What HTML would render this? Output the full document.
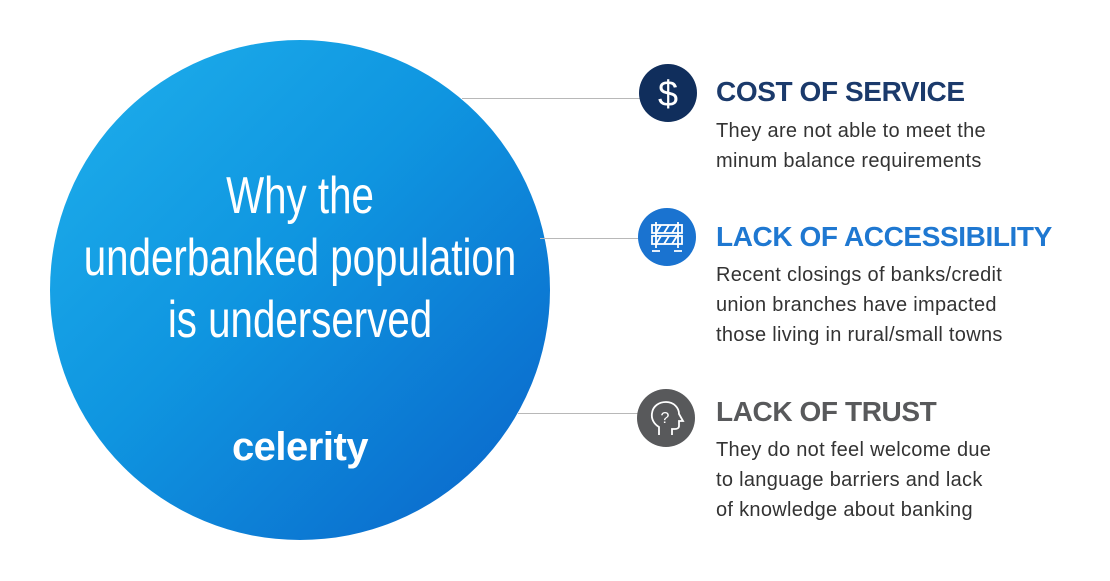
<!DOCTYPE html>
<html><head><style>
body{margin:0;width:1110px;height:581px;background:#fff;position:relative;overflow:hidden;font-family:"Liberation Sans",sans-serif}
.circ{position:absolute;left:50px;top:40px;width:500px;height:500px;border-radius:50%;background:linear-gradient(135deg,#1fb0ec 0%,#0f95e0 45%,#0a63c9 100%)}
.ct{position:absolute;left:0px;width:600px;text-align:center;color:#fff;font-size:52px;line-height:62px;top:165px;white-space:nowrap;transform:scaleX(0.775);transform-origin:300px 0}
.logo{position:absolute;left:50px;width:500px;text-align:center;color:#fff;font-size:40px;font-weight:bold;top:425px;letter-spacing:-0.5px}
.line{position:absolute;height:1px;background:#b8b8b8}
.ic{position:absolute;width:58px;height:58px;border-radius:50%}
.h{position:absolute;left:716px;font-size:28px;font-weight:bold;letter-spacing:-0.4px}
.p{position:absolute;left:716px;font-size:20px;line-height:30px;color:#333;letter-spacing:0.3px;white-space:nowrap}
</style></head><body>
<div class="circ"></div>
<div class="ct">Why the<br>underbanked population<br>is underserved</div>
<div class="logo">celerity</div>
<div class="line" style="left:462px;top:98px;width:180px"></div>
<div class="line" style="left:540px;top:238px;width:100px"></div>
<div class="line" style="left:518px;top:413px;width:120px"></div>
<div class="ic" style="left:639px;top:64px;background:#102e5c"><svg width="58" height="58"><text x="29" y="42" text-anchor="middle" fill="#fff" font-size="36" font-family="Liberation Sans">$</text></svg></div>
<div class="ic" style="left:638px;top:208px;background:#1a73d0"><svg width="58" height="58" fill="none" stroke="#fff" stroke-width="1.8"><rect x="14" y="17" width="30" height="8"/><rect x="14" y="28" width="30" height="8"/><path d="M18 25l5-8M26 25l5-8M34 25l5-8M18 36l5-8M26 36l5-8M34 36l5-8M18 14v26M40 14v26M14 43h8M36 43h8"/></svg></div>
<div class="ic" style="left:637px;top:389px;background:#58595b"><svg width="58" height="58" fill="none" stroke="#fff" stroke-width="1.8"><path d="M22 46v-8c-5-3-8-8-7-14 1-7 7-11 14-11 8 0 13 6 13 12l4 7h-4v5c0 2-2 3-4 3h-3v6"/><text x="28" y="34" text-anchor="middle" fill="#fff" stroke="none" font-size="16" font-family="Liberation Sans">?</text></svg></div>
<div class="h" style="top:76px;color:#1b3a6b">COST OF SERVICE</div>
<div class="p" style="top:116px">They are not able to meet the<br>minum balance requirements</div>
<div class="h" style="top:221px;color:#1f78d1">LACK OF ACCESSIBILITY</div>
<div class="p" style="top:260px">Recent closings of banks/credit<br>union branches have impacted<br>those living in rural/small towns</div>
<div class="h" style="top:396px;color:#58595b">LACK OF TRUST</div>
<div class="p" style="top:435px">They do not feel welcome due<br>to language barriers and lack<br>of knowledge about banking</div>
</body></html>
